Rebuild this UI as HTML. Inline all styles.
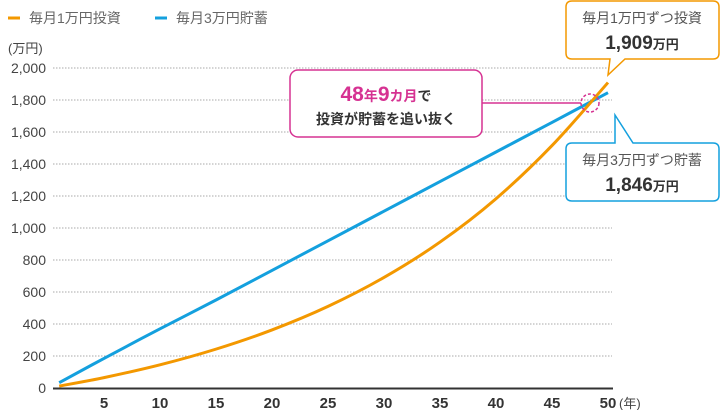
<!DOCTYPE html>
<html><head><meta charset="utf-8"><style>
html,body{margin:0;padding:0;background:#fff;width:720px;height:410px;overflow:hidden}
svg{display:block;font-family:"Liberation Sans","Noto Sans CJK JP",sans-serif}
</style></head><body>
<svg id="chart" width="720" height="410" viewBox="0 0 720 410" xmlns="http://www.w3.org/2000/svg">
<g id="grid"></g>
<g id="axes"></g>
<g id="series"></g>
<g>
  <line x1="8" y1="18" x2="20" y2="18" stroke="#f39800" stroke-width="3"/>
  <text x="29" y="23" font-size="14" fill="#666">毎月1万円投資</text>
  <line x1="155" y1="18" x2="167" y2="18" stroke="#14a0de" stroke-width="3"/>
  <text x="176" y="23" font-size="14" fill="#666">毎月3万円貯蓄</text>
</g>
<text x="8" y="53" font-size="13" fill="#444">(万円)</text>
<text x="619" y="408" font-size="13" fill="#444">(年)</text>
<g>
  <line x1="482" y1="103" x2="581" y2="103" stroke="#d63292" stroke-width="1.5"/>
  <circle cx="590" cy="103" r="9" fill="none" stroke="#d63292" stroke-width="1.5" stroke-dasharray="3,2"/>
  <rect x="290" y="70" width="192" height="67" rx="8" fill="#fff" stroke="#d63292" stroke-width="1.5"/>
  <text x="386" y="101" text-anchor="middle" font-weight="bold" fill="#d63292"><tspan font-size="21">48</tspan><tspan font-size="14">年</tspan><tspan font-size="21">9</tspan><tspan font-size="14">カ月</tspan><tspan font-size="14" fill="#333">で</tspan></text>
  <text x="386" y="124" text-anchor="middle" font-size="14" font-weight="bold" fill="#333">投資が貯蓄を追い抜く</text>
</g>
<g>
  <path d="M572,1 H713 Q719,1 719,7 V53 Q719,59 713,59 H625 L608,75 L610,59 H572 Q566,59 566,53 V7 Q566,1 572,1 Z" fill="#fff" stroke="#f39800" stroke-width="1.5"/>
  <text x="642" y="23" text-anchor="middle" font-size="14" fill="#555">毎月1万円ずつ投資</text>
  <text x="642" y="49" text-anchor="middle" font-weight="bold" fill="#333"><tspan font-size="19">1,909</tspan><tspan font-size="13">万円</tspan></text>
</g>
<g>
  <path d="M572,143 H615 V115 L633,143 H713 Q719,143 719,149 V195 Q719,201 713,201 H572 Q566,201 566,195 V149 Q566,143 572,143 Z" fill="#fff" stroke="#14a0de" stroke-width="1.5"/>
  <text x="642" y="165" text-anchor="middle" font-size="14" fill="#555">毎月3万円ずつ貯蓄</text>
  <text x="642" y="191" text-anchor="middle" font-weight="bold" fill="#333"><tspan font-size="19">1,846</tspan><tspan font-size="13">万円</tspan></text>
</g>
</svg>
<script>
const years = [1,5,10,15,20,25,30,35,40,45,50];
const investValues = [12,65,145,243,363,510,691,912,1183,1515,1909];
const savingValues = [33,185,370,550,735,920,1105,1290,1475,1660,1846];
const yTicks = [0,200,400,600,800,1000,1200,1400,1600,1800,2000];
const yTickLabels = ["0","200","400","600","800","1,000","1,200","1,400","1,600","1,800","2,000"];
const xTicks = [5,10,15,20,25,30,35,40,45,50];

const NS="http://www.w3.org/2000/svg";
const xs = t => 48 + 11.2*t;
const ys = v => 388 - 0.16*v;
function mk(tag, attrs, parent){const e=document.createElementNS(NS,tag);for(const k in attrs)e.setAttribute(k,attrs[k]);parent.appendChild(e);return e;}
const grid=document.getElementById('grid'), axes=document.getElementById('axes'), series=document.getElementById('series');
yTicks.forEach((v,i)=>{
  if(v>0){const l=mk('line',{x1:53,x2:612,y1:ys(v),y2:ys(v),stroke:'#aaa','stroke-width':1,'stroke-dasharray':'1.5,1.5'},grid);
  
  }
  const t=mk('text',{x:46,y:ys(v)+5,'text-anchor':'end','font-size':14,fill:'#444'},axes);
  t.textContent=yTickLabels[i];
  
  
});
const ax=mk('line',{x1:53,x2:613,y1:388.5,y2:388.5,stroke:'#333','stroke-width':2},axes);


xTicks.forEach(v=>{
  const t=mk('text',{x:xs(v),y:408,'text-anchor':'middle','font-size':15,'font-weight':'bold',fill:'#333'},axes);
  t.textContent=String(v);
  
  
});
function smooth(vals){
  const p=years.map((y,i)=>[xs(y),ys(vals[i])]);
  let d='M'+p[0][0]+','+p[0][1];
  for(let i=0;i<p.length-1;i++){
    const p0=p[Math.max(0,i-1)],p1=p[i],p2=p[i+1],p3=p[Math.min(p.length-1,i+2)];
    const c1=[p1[0]+(p2[0]-p0[0])/6,p1[1]+(p2[1]-p0[1])/6];
    const c2=[p2[0]-(p3[0]-p1[0])/6,p2[1]-(p3[1]-p1[1])/6];
    d+=' C'+c1+' '+c2+' '+p2;
  }
  return d;
}
const s=mk('path',{d:smooth(savingValues),fill:'none',stroke:'#14a0de','stroke-width':3},series);


const o=mk('path',{d:smooth(investValues),fill:'none',stroke:'#f39800','stroke-width':3},series);


</script>
</body></html>
